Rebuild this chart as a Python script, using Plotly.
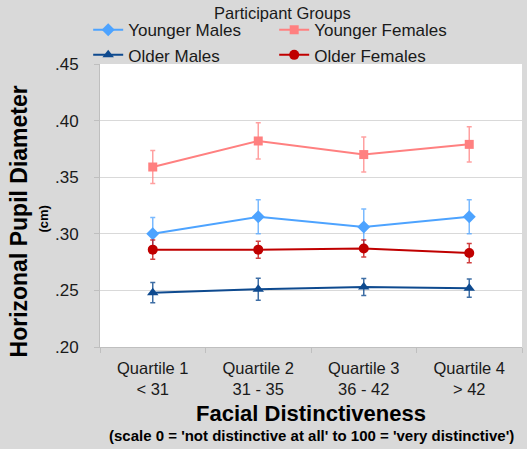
import plotly.graph_objects as go

categories = ["Quartile 1<br>&lt; 31", "Quartile 2<br>31 - 35", "Quartile 3<br>36 - 42", "Quartile 4<br>&gt; 42"]

younger_males = [0.300, 0.315, 0.306, 0.315]
younger_males_err = [0.0145, 0.015, 0.016, 0.015]
younger_females = [0.359, 0.382, 0.370, 0.379]
younger_females_err = [0.0145, 0.016, 0.0155, 0.0155]
older_males = [0.248, 0.251, 0.253, 0.252]
older_males_err = [0.009, 0.0097, 0.0075, 0.008]
older_females = [0.286, 0.286, 0.287, 0.283]
older_females_err = [0.0085, 0.0075, 0.0075, 0.0085]

y_ticks = [0.20, 0.25, 0.30, 0.35, 0.40, 0.45]
y_tick_labels = [".20", ".25", ".30", ".35", ".40", ".45"]

FONT = "Arial, Liberation Sans, sans-serif"

series = [
    ("Younger Males", younger_males, younger_males_err, "#4da3ff", "rgba(77,163,255,0.75)", "diamond", 10),
    ("Younger Females", younger_females, younger_females_err, "#ff8080", "rgba(255,128,128,0.75)", "square", 9),
    ("Older Males", older_males, older_males_err, "#0e4a8f", "rgba(14,74,143,0.8)", "triangle-up", 10),
    ("Older Females", older_females, older_females_err, "#c00000", "rgba(192,0,0,0.75)", "circle", 10),
]

fig = go.Figure()
for name, vals, errs, col, ecol, sym, size in series:
    fig.add_trace(go.Scatter(
        x=categories, y=vals, name=name, mode="lines+markers",
        line=dict(color=col, width=2),
        marker=dict(symbol=sym, size=size, color=col),
        error_y=dict(type="data", array=errs, visible=True, color=ecol, thickness=1.5, width=2.5),
    ))

fig.update_layout(
    width=527, height=449,
    margin=dict(l=100, r=5, t=64, b=102, autoexpand=False),
    paper_bgcolor="#d9d9d9", plot_bgcolor="#ffffff",
    font=dict(family=FONT, color="#1a1a1a"),
    showlegend=True,
    legend=dict(
        orientation="h", x=-0.028, xanchor="left", y=1.183, yanchor="top",
        bgcolor="rgba(0,0,0,0)", entrywidth=141, entrywidthmode="pixels",
        font=dict(size=17, family=FONT, color="#1a1a1a"),
        tracegroupgap=0, itemwidth=30,
    ),
    xaxis=dict(
        type="category", tickson="boundaries", ticks="outside", ticklen=5,
        tickcolor="#bfbfbf", showline=True, linecolor="#bfbfbf", linewidth=1,
        showgrid=False, range=[-0.5, 3.5], automargin=False, ticklabelstandoff=6,
        tickfont=dict(size=16.5, family=FONT, color="#1a1a1a"),
        title=dict(
            text="<b>Facial Distinctiveness</b>",
            font=dict(size=22, family=FONT, color="#000000"), standoff=8,
        ),
    ),
    yaxis=dict(
        range=[0.20, 0.45], tickvals=y_ticks, ticktext=y_tick_labels,
        ticks="outside", ticklen=5, tickcolor="#bfbfbf", automargin=False,
        showline=True, linecolor="#bfbfbf", linewidth=1, ticklabelstandoff=12,
        showgrid=True, gridcolor="#d9d9d9", gridwidth=1, zeroline=False,
        tickfont=dict(size=17, family=FONT, color="#1a1a1a"),
    ),
    annotations=[
        dict(text="Participant Groups", xref="paper", yref="paper", x=0.4336, y=1.180,
             xanchor="center", yanchor="middle", showarrow=False,
             font=dict(size=16.5, family=FONT, color="#1a1a1a")),
        dict(text="<b>Horizonal Pupil Diameter</b>", xref="paper", yref="paper",
             x=-0.1896, y=0.4435, xanchor="center", yanchor="middle", textangle=-90,
             showarrow=False, font=dict(size=23, family=FONT, color="#000000")),
        dict(text="<b>(cm)</b>", xref="paper", yref="paper",
             x=-0.1327, y=0.4505, xanchor="center", yanchor="middle", textangle=-90,
             showarrow=False, font=dict(size=13, family=FONT, color="#000000")),
        dict(text="<b>(scale 0 = 'not distinctive at all' to 100 = 'very distinctive')</b>",
             xref="paper", yref="paper", x=0.5, y=-0.311, xanchor="center", yanchor="middle",
             showarrow=False, font=dict(size=15, family=FONT, color="#000000")),
    ],
)

fig.write_html("out.html", config={"displayModeBar": False},
               post_script="document.body.style.margin='0';")
